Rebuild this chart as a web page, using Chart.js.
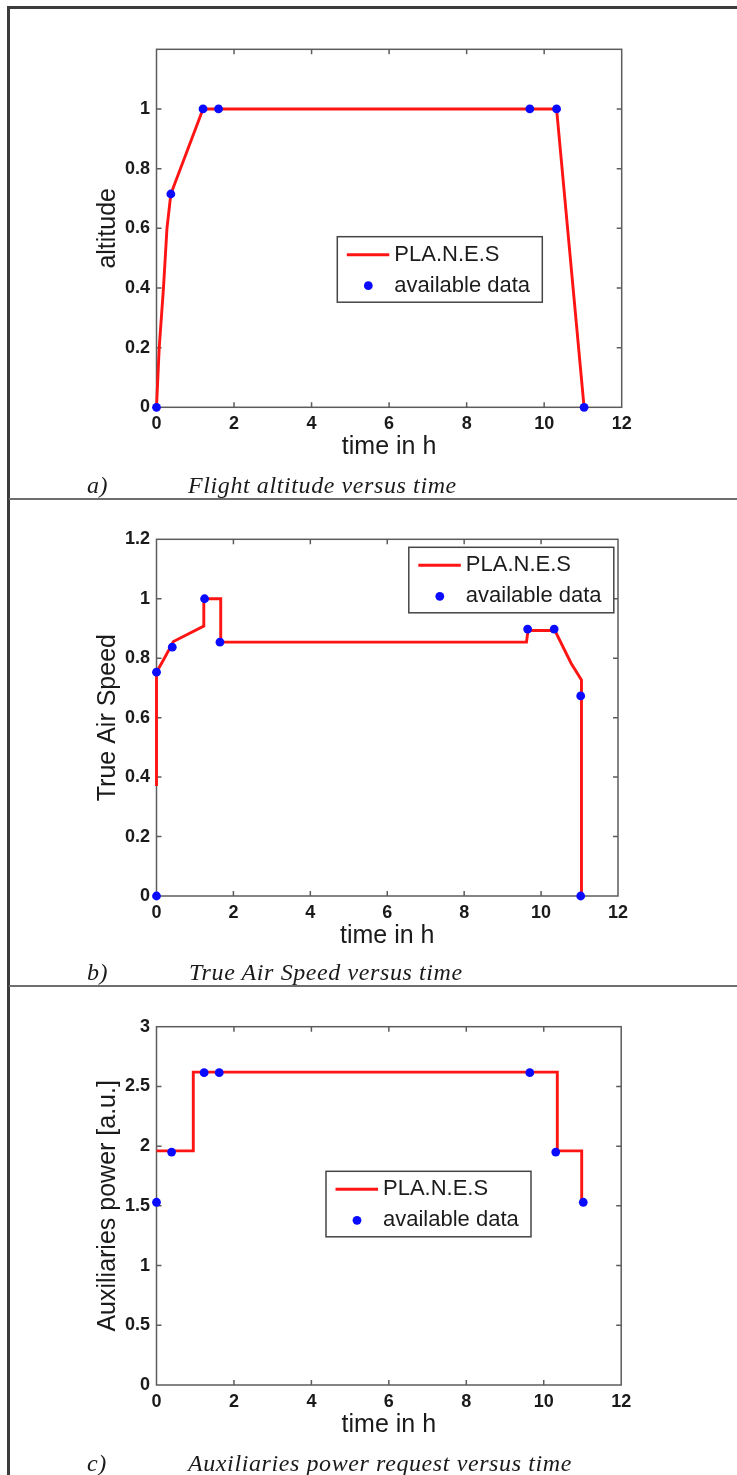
<!DOCTYPE html>
<html>
<head>
<meta charset="utf-8">
<title>Flight profile</title>
<script src="https://cdn.jsdelivr.net/npm/chart.js@4.4.0/dist/chart.umd.min.js"></script>
<style>
  html, body { margin: 0; padding: 0; background: #fff; }
  body { width: 737px; height: 1475px; position: relative; overflow: hidden; }
  canvas { position: absolute; left: 0; }
  .frame-top { position: absolute; left: 7px; top: 6px; width: 730px; height: 3px; background: #3c3c3c; z-index: 2; }
  .frame-left { position: absolute; left: 7px; top: 6px; width: 3px; height: 1469px; background: #3c3c3c; z-index: 2; }
  .divider { position: absolute; left: 9px; width: 728px; height: 2px; background: #6e6e6e; z-index: 2; }
  .caption {
    position: absolute; transform: translateY(-50%); white-space: nowrap;
    font-family: "Liberation Serif", "Times New Roman", serif; font-style: italic;
    font-size: 24px; letter-spacing: 0.6px; color: #1a1a1a;
  }
</style>
</head>
<body>

<div class="frame-top"></div>
<div class="frame-left"></div>

<canvas id="altitudeChart" style="top:0px" width="737" height="497"></canvas>
<div class="caption" style="left:87px; top:485px">a)</div>
<div class="caption" style="left:188px; top:485px">Flight altitude versus time</div>
<div class="divider" style="top:498px"></div>

<canvas id="speedChart" style="top:500px" width="737" height="484"></canvas>
<div class="caption" style="left:87px; top:972px">b)</div>
<div class="caption" style="left:189px; top:972px">True Air Speed versus time</div>
<div class="divider" style="top:985px"></div>

<canvas id="powerChart" style="top:987px" width="737" height="488"></canvas>
<div class="caption" style="left:87px; top:1463px">c)</div>
<div class="caption" style="left:188px; top:1463px">Auxiliaries power request versus time</div>

<script>
// ================= DATA =================
const seriesNames = ["PLA.N.E.S", "available data"];
const timeTicks = [0, 2, 4, 6, 8, 10, 12];

// a) flight altitude
const altitudeTicks = [0, 0.2, 0.4, 0.6, 0.8, 1];
const altModelTime = [0, 0.07, 0.18, 0.27, 0.37, 1.2, 10.32, 11.03];
const altModelValue = [0, 0.2, 0.4, 0.6, 0.715, 1, 1, 0];
const altDataTime = [0, 0.37, 1.2, 1.6, 9.63, 10.32, 11.03];
const altDataValue = [0, 0.715, 1, 1, 1, 1, 0];

// b) true air speed
const speedTicks = [0, 0.2, 0.4, 0.6, 0.8, 1, 1.2];
const speedModelTime = [0, 0, 0.18, 0.44, 1.23, 1.23, 1.67, 1.67, 9.62, 9.66, 10.36, 10.78, 11.05, 11.05];
const speedModelValue = [0.37, 0.753, 0.794, 0.856, 0.908, 1, 1, 0.854, 0.854, 0.893, 0.893, 0.783, 0.727, 0];
const speedDataTime = [0, 0, 0.41, 1.25, 1.65, 9.65, 10.34, 11.03, 11.03];
const speedDataValue = [0, 0.753, 0.837, 1, 0.854, 0.898, 0.898, 0.673, 0];

// c) auxiliaries power
const powerTicks = [0, 0.5, 1, 1.5, 2, 2.5, 3];
const powerModelTime = [0, 0.95, 0.95, 10.35, 10.35, 10.98, 10.98];
const powerModelValue = [1.96, 1.96, 2.62, 2.62, 1.96, 1.96, 1.53];
const powerDataTime = [0, 0.39, 1.23, 1.62, 9.64, 10.31, 11.02];
const powerDataValue = [1.53, 1.95, 2.615, 2.615, 2.615, 1.95, 1.53];


// ================= PLUGINS =================
// matlab style box with inner tick marks
const matlabBox = {
  id: "matlabBox",
  beforeDatasetsDraw(chart) {
    const { ctx, chartArea: a, scales: { x, y } } = chart;
    ctx.save();
    ctx.strokeStyle = "#5c5c5c";
    ctx.lineWidth = 1.5;
    ctx.strokeRect(a.left, a.top, a.right - a.left, a.bottom - a.top);
    ctx.beginPath();
    x.ticks.forEach(t => {
      const px = x.getPixelForValue(t.value);
      if (px <= a.left + 1 || px >= a.right - 1) return;
      ctx.moveTo(px, a.bottom); ctx.lineTo(px, a.bottom - 5);
      ctx.moveTo(px, a.top); ctx.lineTo(px, a.top + 5);
    });
    y.ticks.forEach(t => {
      const py = y.getPixelForValue(t.value);
      if (py <= a.top + 1 || py >= a.bottom - 1) return;
      ctx.moveTo(a.left, py); ctx.lineTo(a.left + 5, py);
      ctx.moveTo(a.right, py); ctx.lineTo(a.right - 5, py);
    });
    ctx.stroke();
    ctx.restore();
  }
};

// boxed legend placed inside the axes
const boxLegend = {
  id: "boxLegend",
  afterDraw(chart, args, opts) {
    const { ctx } = chart;
    const [lineSet, dotSet] = chart.data.datasets;
    const x = opts.x, y = opts.y, w = 205, h = 65.5;
    ctx.save();
    ctx.fillStyle = "#fff";
    ctx.fillRect(x, y, w, h);
    ctx.strokeStyle = "#454545";
    ctx.lineWidth = 1.5;
    ctx.strokeRect(x, y, w, h);

    ctx.strokeStyle = lineSet.borderColor;
    ctx.lineWidth = lineSet.borderWidth;
    ctx.beginPath();
    ctx.moveTo(x + 9.5, y + 18);
    ctx.lineTo(x + 52, y + 18);
    ctx.stroke();

    ctx.fillStyle = dotSet.pointBackgroundColor;
    ctx.beginPath();
    ctx.arc(x + 31, y + 49, dotSet.pointRadius, 0, Math.PI * 2);
    ctx.fill();

    ctx.fillStyle = "#1c1c1c";
    ctx.font = '22px "Liberation Sans", Arial, sans-serif';
    ctx.textBaseline = "middle";
    ctx.fillText(lineSet.label, x + 57, y + 18);
    ctx.fillText(dotSet.label, x + 57, y + 49);
    ctx.restore();
  }
};


// ================= CHARTS =================
Chart.defaults.font.family = '"Liberation Sans", Arial, sans-serif';
Chart.defaults.color = "#1a1a1a";

const fmt = v => String(Math.round(v * 100) / 100);
const toPoints = (xs, ys) => xs.map((t, i) => ({ x: t, y: ys[i] }));

function makePanel(id, p) {
  const ctx = document.getElementById(id).getContext("2d");
  return new Chart(ctx, {
    type: "scatter",
    data: {
      datasets: [
        {
          label: seriesNames[0],
          data: toPoints(p.modelTime, p.modelValue),
          showLine: true,
          borderColor: "#ff1414",
          borderWidth: 2.9,
          pointRadius: 0,
          tension: 0,
          clip: false,
          order: 1
        },
        {
          label: seriesNames[1],
          data: toPoints(p.dataTime, p.dataValue),
          showLine: false,
          pointRadius: 4.4,
          pointBackgroundColor: "#0a0aff",
          pointBorderWidth: 0,
          clip: false,
          order: 0
        }
      ]
    },
    options: {
      responsive: false,
      animation: false,
      events: [],
      layout: { padding: { left: 0, top: p.top, right: p.right, bottom: p.bottom } },
      scales: {
        x: {
          type: "linear",
          min: 0,
          max: 12,
          afterBuildTicks: s => { s.ticks = timeTicks.map(v => ({ value: v })); },
          afterFit: s => { s.height = 55; },
          grid: { display: false, drawTicks: false },
          border: { display: false },
          ticks: { padding: 6, autoSkip: false, maxRotation: 0, callback: fmt, font: { size: 18, weight: "bold" } },
          title: { display: true, text: "time in h", padding: 0, font: { size: 25 } }
        },
        y: {
          type: "linear",
          min: p.yMin,
          max: p.yMax,
          afterBuildTicks: s => { s.ticks = p.yTicks.map(v => ({ value: v })); },
          afterFit: s => { s.width = 156.5; },
          grid: { display: false, drawTicks: false },
          border: { display: false },
          ticks: { padding: 6.5, autoSkip: false, callback: fmt, font: { size: 18, weight: "bold" } },
          title: { display: true, text: p.yTitle, padding: { top: 93, bottom: 0 }, font: { size: 25 } }
        }
      },
      plugins: {
        legend: { display: false },
        tooltip: { enabled: false },
        boxLegend: { x: p.legendX, y: p.legendY }
      }
    },
    plugins: [matlabBox, boxLegend]
  });
}

makePanel("altitudeChart", {
  modelTime: altModelTime, modelValue: altModelValue,
  dataTime: altDataTime, dataValue: altDataValue,
  yMin: 0, yMax: 1.2, yTicks: altitudeTicks, yTitle: "altitude",
  top: 49.3, right: 115.3, bottom: 34.7,
  legendX: 337.3, legendY: 236.7
});

makePanel("speedChart", {
  modelTime: speedModelTime, modelValue: speedModelValue,
  dataTime: speedDataTime, dataValue: speedDataValue,
  yMin: 0, yMax: 1.2, yTicks: speedTicks, yTitle: "True Air Speed",
  top: 39.3, right: 119, bottom: 33,
  legendX: 408.8, legendY: 47.3
});

makePanel("powerChart", {
  modelTime: powerModelTime, modelValue: powerModelValue,
  dataTime: powerDataTime, dataValue: powerDataValue,
  yMin: 0, yMax: 3, yTicks: powerTicks, yTitle: "Auxiliaries power [a.u.]",
  top: 39.7, right: 115.8, bottom: 35,
  legendX: 326, legendY: 184.3
});
</script>
</body>
</html>
